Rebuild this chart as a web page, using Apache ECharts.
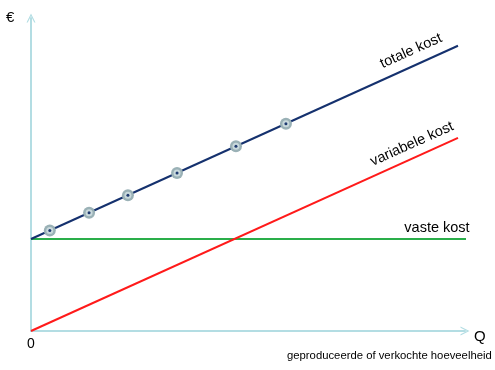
<!DOCTYPE html>
<html>
<head>
<meta charset="utf-8">
<script src="https://cdn.jsdelivr.net/npm/echarts@6/dist/echarts.min.js"></script>
<style>
  html, body { margin: 0; padding: 0; background: #ffffff; }
  #chart { width: 495px; height: 370px; }
</style>
</head>
<body>
<div id="chart"></div>
<script>
// Kostenverloop: vaste, variabele en totale kost als functie van de hoeveelheid Q
const quantities = [0, 100];
const fixedCost = [20, 20];
const variableCost = [0, 42];
const totalCost = [20, 62];
const fixedCostEnd = [[0, 20], [102, 20]];
const markedQ = [4.4, 13.6, 22.7, 34.2, 48, 59.7];
const markedTotal = [21.85, 25.71, 29.53, 34.36, 40.16, 45.07];

const axisColor = '#b3dde3';
const arrowPath = 'path://M0,10 L5,0 L10,10 L8.6,10 L5,2.8 L1.4,10 Z';

const lineData = (ys) => quantities.map((q, i) => [q, ys[i]]);
const markerData = markedQ.map((q, i) => [q, markedTotal[i]]);

const chart = echarts.init(document.getElementById('chart'));
chart.setOption({
  animation: false,
  grid: { left: 31, right: 30, top: 18, bottom: 39 },
  xAxis: {
    type: 'value', min: 0, max: 101.64,
    axisLine: { lineStyle: { color: axisColor, width: 2 }, symbol: ['none', arrowPath], symbolSize: [11, 9] },
    axisTick: { show: false }, axisLabel: { show: false }, splitLine: { show: false }
  },
  yAxis: {
    type: 'value', min: 0, max: 68.04,
    axisLine: { lineStyle: { color: axisColor, width: 2 }, symbol: ['none', arrowPath], symbolSize: [11, 9] },
    axisTick: { show: false }, axisLabel: { show: false }, splitLine: { show: false }
  },
  series: [
    {
      name: 'vaste kost', type: 'line', data: fixedCostEnd, symbol: 'none',
      lineStyle: { color: '#2aae4a', width: 2 }
    },
    {
      name: 'variabele kost', type: 'line', data: lineData(variableCost), symbol: 'none',
      lineStyle: { color: '#ff1a1a', width: 2 }
    },
    {
      name: 'totale kost', type: 'line', data: lineData(totalCost), symbol: 'none',
      lineStyle: { color: '#15316e', width: 2 }
    },
    {
      type: 'scatter', data: markerData, symbolSize: 12, z: 5,
      itemStyle: { color: '#9ab1b6', opacity: 1 }
    },
    {
      type: 'scatter', data: markerData, symbolSize: 7, z: 6,
      itemStyle: { color: '#c9d9dc', opacity: 1 }
    },
    {
      type: 'scatter', data: markerData, symbolSize: 3, z: 7,
      itemStyle: { color: '#1e3a70', opacity: 1 }
    }
  ],
  graphic: [
    { type: 'text', left: 6, top: 10, style: { text: '€', font: '15px "Liberation Sans", Arial', fill: '#000' } },
    { type: 'text', left: 27, top: 337, style: { text: '0', font: '14px "Liberation Sans", Arial', fill: '#000' } },
    { type: 'text', left: 474, top: 329, style: { text: 'Q', font: '15px "Liberation Sans", Arial', fill: '#000' } },
    { type: 'text', left: 287, top: 350, style: { text: 'geproduceerde of verkochte hoeveelheid', font: '11.3px "Liberation Sans", Arial', fill: '#000' } },
    { type: 'text', x: 411, y: 51, rotation: 0.42, style: { text: 'totale kost', font: '14.5px "Liberation Sans", Arial', fill: '#000', align: 'center', verticalAlign: 'middle' } },
    { type: 'text', x: 412, y: 144, rotation: 0.42, style: { text: 'variabele kost', font: '14.5px "Liberation Sans", Arial', fill: '#000', align: 'center', verticalAlign: 'middle' } },
    { type: 'text', x: 437, y: 228, style: { text: 'vaste kost', font: '14.5px "Liberation Sans", Arial', fill: '#000', align: 'center', verticalAlign: 'middle' } }
  ]
});
</script>
</body>
</html>
